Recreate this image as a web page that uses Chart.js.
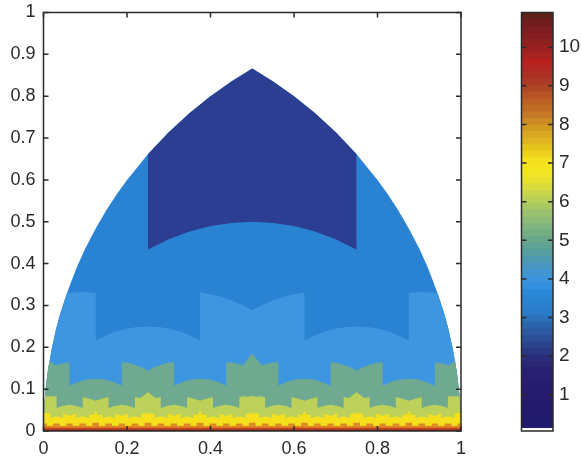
<!DOCTYPE html>
<html>
<head>
<meta charset="utf-8">
<script src="https://cdn.jsdelivr.net/npm/chart.js@4"></script>
<style>
  html, body { margin: 0; background: #fff; }
  canvas { position: absolute; top: 0; }
</style>
</head>
<body>
<canvas id="map" width="500" height="458" style="left:0"></canvas>
<canvas id="bar" width="82" height="458" style="left:500px"></canvas>
<script>
'use strict';

const xTicks = [0, 0.2, 0.4, 0.6, 0.8, 1];
const yTicks = [0, 0.1, 0.2, 0.3, 0.4, 0.5, 0.6, 0.7, 0.8, 0.9, 1];
const barTicks = [1, 2, 3, 4, 5, 6, 7, 8, 9, 10];

// left halves of each region outline, x up to 0.5, the picture is symmetric
const domeHalf = [[0,0],[0.002,0.063],[0.005,0.1],[0.01,0.141],[0.02,0.198],[0.03,0.243],[0.04,0.28],[0.06,0.34],
  [0.08,0.392],[0.1,0.436],[0.125,0.484],[0.15,0.527],[0.175,0.565],[0.2,0.6],[0.25,0.661],[0.3,0.714],
  [0.35,0.76],[0.4,0.8],[0.45,0.835],[0.5,0.866]];
const navyHalf = [[0.25,0],[0.25,0.661],[0.3,0.714],[0.35,0.76],[0.4,0.8],[0.45,0.835],[0.5,0.866]];
// starts a hair wider than navy so no seam shows under the arch
const archHalf = [[0.2485,0],[0.2485,0.43],[0.25,0.433],[0.3,0.458],[0.35,0.477],[0.4,0.49],[0.45,0.497],[0.5,0.5]];
const lightHalf = [[0,0],[0.002,0.063],[0.005,0.1],[0.01,0.141],[0.02,0.198],[0.03,0.243],[0.04,0.28],[0.056,0.33],
  [0.09,0.332],[0.125,0.33],[0.125,0.2165],[0.15,0.229],[0.175,0.2385],[0.2,0.245],[0.225,0.2487],[0.25,0.25],
  [0.275,0.2487],[0.3,0.245],[0.325,0.2385],[0.35,0.229],[0.375,0.2165],[0.375,0.331],[0.4,0.3266],
  [0.425,0.3205],[0.45,0.3122],[0.475,0.3018],[0.5,0.2887]];
const tealHalf = [[0,0],[0.002,0.063],[0.005,0.1],[0.01,0.141],[0.014,0.168],[0.028,0.157],[0.0625,0.164],
  [0.0625,0.108],[0.08,0.116],[0.1,0.1225],[0.125,0.125],[0.15,0.1225],[0.17,0.1164],[0.1875,0.108],
  [0.1875,0.165],[0.2,0.163],[0.2125,0.16],[0.225,0.156],[0.2375,0.151],[0.25,0.144],[0.2625,0.151],
  [0.275,0.156],[0.2875,0.16],[0.3,0.163],[0.3125,0.165],[0.3125,0.108],[0.33,0.116],[0.35,0.1225],
  [0.375,0.125],[0.4,0.1225],[0.42,0.1164],[0.4375,0.108],[0.4375,0.165],[0.46,0.162],[0.478,0.157],[0.5,0.186]];
const limeHalf = [[0,0],[0.0035,0.083],[0.0315,0.083],[0.0315,0.055],[0.045,0.0595],[0.0625,0.0625],[0.08,0.0595],
  [0.094,0.055],[0.094,0.081],[0.11,0.077],[0.125,0.072],[0.14,0.077],[0.156,0.081],[0.156,0.055],[0.17,0.0595],
  [0.1875,0.0625],[0.205,0.0595],[0.219,0.055],[0.219,0.081],[0.232,0.079],[0.25,0.093],[0.268,0.079],
  [0.281,0.081],[0.281,0.055],[0.295,0.0595],[0.3125,0.0625],[0.33,0.0595],[0.344,0.055],[0.344,0.081],
  [0.36,0.077],[0.375,0.072],[0.39,0.077],[0.406,0.081],[0.406,0.055],[0.42,0.0595],[0.4375,0.0625],
  [0.455,0.0595],[0.469,0.055],[0.469,0.081],[0.48,0.083],[0.49,0.081],[0.5,0.084]];
const yellowHalf = [[0,0],[0,0.043],[0.016,0.043],[0.016,0.031],[0.031,0.035],[0.047,0.031],
  [0.047,0.041],[0.055,0.039],[0.0625,0.036],[0.07,0.039],[0.078,0.041],[0.078,0.031],[0.094,0.035],[0.109,0.031],
  [0.109,0.039],[0.119,0.038],[0.125,0.048],[0.131,0.038],[0.141,0.039],[0.141,0.031],[0.156,0.035],[0.172,0.031],
  [0.172,0.041],[0.18,0.039],[0.1875,0.036],[0.195,0.039],[0.203,0.041],[0.203,0.031],[0.219,0.035],[0.234,0.031],
  [0.234,0.039],[0.24,0.043],[0.245,0.04],[0.25,0.045],[0.255,0.04],[0.26,0.043],[0.266,0.039],[0.266,0.031],
  [0.281,0.035],[0.297,0.031],[0.297,0.041],[0.305,0.039],[0.3125,0.036],[0.32,0.039],[0.328,0.041],[0.328,0.031],
  [0.344,0.035],[0.359,0.031],[0.359,0.039],[0.369,0.038],[0.375,0.048],[0.381,0.038],[0.391,0.039],[0.391,0.031],
  [0.406,0.035],[0.422,0.031],[0.422,0.041],[0.43,0.039],[0.4375,0.036],[0.445,0.039],[0.453,0.041],[0.453,0.031],
  [0.469,0.035],[0.484,0.031],[0.484,0.039],[0.49,0.043],[0.495,0.04],[0.5,0.045]];
const orangeHalf = [[0,0],[0,0.018],[0.008,0.018],[0.008,0.0125],[0.023,0.0125],[0.023,0.018],[0.039,0.018],[0.039,0.0125],
  [0.055,0.0125],[0.055,0.018],[0.07,0.018],[0.07,0.0125],[0.086,0.0125],[0.086,0.018],[0.102,0.018],[0.102,0.0125],
  [0.117,0.0125],[0.117,0.02],[0.133,0.02],[0.133,0.0125],[0.148,0.0125],[0.148,0.018],[0.164,0.018],[0.164,0.0125],
  [0.18,0.0125],[0.18,0.018],[0.195,0.018],[0.195,0.0125],[0.211,0.0125],[0.211,0.018],[0.227,0.018],[0.227,0.0125],
  [0.242,0.0125],[0.242,0.02],[0.258,0.02],[0.258,0.0125],[0.273,0.0125],[0.273,0.018],[0.289,0.018],[0.289,0.0125],
  [0.305,0.0125],[0.305,0.018],[0.32,0.018],[0.32,0.0125],[0.336,0.0125],[0.336,0.018],[0.352,0.018],[0.352,0.0125],
  [0.367,0.0125],[0.367,0.02],[0.383,0.02],[0.383,0.0125],[0.398,0.0125],[0.398,0.018],[0.414,0.018],[0.414,0.0125],
  [0.43,0.0125],[0.43,0.018],[0.445,0.018],[0.445,0.0125],[0.461,0.0125],[0.461,0.018],[0.477,0.018],[0.477,0.0125],
  [0.492,0.0125],[0.492,0.02],[0.5,0.02]];
const redHalf = [[0,0],[0,0.008],[0.5,0.008]];
const maroonHalf = [[0,0],[0,0.003],[0.5,0.003]];

// back to front
const regionHalves = [domeHalf, navyHalf, archHalf, lightHalf, tealHalf, limeHalf, yellowHalf, orangeHalf, redHalf, maroonHalf];
const regionColors = ['#2a83d2', '#2c3e92', '#2a83d2', '#3f96e0', '#6faa90', '#bcd05a', '#f4e01c', '#dd8a24', '#c44224', '#6e1e14'];

// colorbar stripes, bottom to top
const barBottom = 0.15;
const barTops = [0.32,0.49,0.66,0.83,1.0,1.17,1.34,1.51,1.69,1.86,2.03,2.2,2.37,2.54,2.71,2.88,3.05,3.22,3.39,3.56,3.73,3.9,
  4.07,4.24,4.41,4.58,4.76,4.93,5.1,5.27,5.44,5.61,5.78,5.95,6.12,6.29,6.46,6.63,6.8,6.97,7.14,7.31,7.48,7.65,7.82,7.99,
  8.16,8.33,8.5,8.67,8.85,9.02,9.19,9.36,9.53,9.7,9.87,10.04,10.21,10.38,10.55,10.72,10.9];
const barColors = ['#221a6c','#221a6c','#231a6c','#241a6c','#251a6c','#271b6e','#281c6e','#291e70','#2a2072','#2a2674',
  '#2a2e7a','#2a3882','#2b428c','#2c4e96','#2c5aa0','#2c64ac','#2c70ba','#2a7cc8','#2a80ce','#2a84d4','#2a88d8','#3290dc',
  '#3c94dc','#4296d0','#4897c0','#4d99b0','#559ea2','#5fa396','#6aa88c','#74af84','#80b57e','#8cbb78','#9ac170','#a8c864',
  '#b8cf5a','#c8d54c','#d8db3e','#e6e030','#f0e424','#f4e41e','#f4e01e','#eed21e','#e6c41e','#e0b41e','#daa820','#d39a22',
  '#cc8a24','#c67a26','#c16c26','#bc6026','#b65226','#b04626','#ad3a26','#ad3024','#b22822','#b82020','#a82222','#9a2022',
  '#8e2020','#841e20','#7a1e20','#701d20','#5e2218'];

const FONT = { family: '"Liberation Sans", Arial, sans-serif', size: 18 };
const BAR_FONT = { family: '"Liberation Sans", Arial, sans-serif', size: 19 };
const INK = '#2a2a2a';

function mirrored(half) {
  const right = half.slice().reverse().map(p => [1 - p[0], p[1]]);
  return half.concat(right).map(p => ({ x: p[0], y: p[1] }));
}

// box round the plot and matlab style ticks pointing inward
const frame = {
  id: 'frame',
  afterDatasetsDraw(chart) {
    const { ctx, chartArea: a, scales } = chart;
    ctx.save();
    ctx.strokeStyle = INK;
    ctx.lineWidth = 1.5;
    ctx.strokeRect(a.left, a.top, a.right - a.left, a.bottom - a.top);
    ctx.beginPath();
    for (const t of scales.y.ticks) {
      const py = scales.y.getPixelForValue(t.value);
      ctx.moveTo(a.left, py); ctx.lineTo(a.left + 5, py);
      ctx.moveTo(a.right, py); ctx.lineTo(a.right - 5, py);
    }
    if (scales.x.options.display) {
      for (const t of scales.x.ticks) {
        const px = scales.x.getPixelForValue(t.value);
        ctx.moveTo(px, a.bottom); ctx.lineTo(px, a.bottom - 5);
        ctx.moveTo(px, a.top); ctx.lineTo(px, a.top + 5);
      }
    }
    ctx.stroke();
    ctx.restore();
  }
};

new Chart(document.getElementById('map'), {
  type: 'scatter',
  data: {
    datasets: regionHalves.map((half, i) => ({
      data: mirrored(half),
      showLine: true,
      fill: 'origin',
      borderWidth: 0,
      pointRadius: 0,
      tension: 0,
      backgroundColor: regionColors[i],
      order: regionHalves.length - i, // lower order paints on top
    }))
  },
  plugins: [frame],
  options: {
    responsive: false,
    animation: false,
    layout: { padding: { top: 12.5, right: 39, left: 0, bottom: 0 } },
    plugins: { legend: { display: false }, tooltip: { enabled: false } },
    scales: {
      x: {
        type: 'linear', min: 0, max: 1,
        grid: { display: false, drawTicks: false },
        border: { display: false },
        afterBuildTicks: s => { s.ticks = xTicks.map(v => ({ value: v })); },
        afterFit: s => { s.height = 27; },
        ticks: { font: FONT, color: INK, padding: 7, maxRotation: 0, autoSkip: false, callback: v => String(v) },
      },
      y: {
        min: 0, max: 1,
        grid: { display: false, drawTicks: false },
        border: { display: false },
        afterBuildTicks: s => { s.ticks = yTicks.map(v => ({ value: v })); },
        afterFit: s => { s.width = 43.5; s.paddingTop = 0; s.paddingBottom = 0; },
        ticks: { font: FONT, color: INK, padding: 8, autoSkip: false, callback: v => String(v) },
      }
    }
  }
});

new Chart(document.getElementById('bar'), {
  type: 'bar',
  data: {
    labels: [''],
    // first dataset is painted last, so lower stripes sit on top of longer ones
    datasets: barTops.map((top, i) => ({
      data: [[barBottom, top]],
      backgroundColor: barColors[i],
      borderWidth: 0,
      barPercentage: 1,
      categoryPercentage: 1,
    }))
  },
  plugins: [frame],
  options: {
    responsive: false,
    animation: false,
    layout: { padding: { top: 12.5, right: 0, left: 21.5, bottom: 27 } },
    plugins: { legend: { display: false }, tooltip: { enabled: false } },
    scales: {
      x: { stacked: true, display: false },
      y: {
        position: 'right',
        min: 0.06, max: 10.9,
        grid: { display: false, drawTicks: false },
        border: { display: false },
        afterBuildTicks: s => { s.ticks = barTicks.map(v => ({ value: v })); },
        afterFit: s => { s.width = 29; s.paddingTop = 0; s.paddingBottom = 0; },
        ticks: { font: BAR_FONT, color: INK, padding: 6, autoSkip: false },
      }
    }
  }
});
</script>
</body>
</html>
